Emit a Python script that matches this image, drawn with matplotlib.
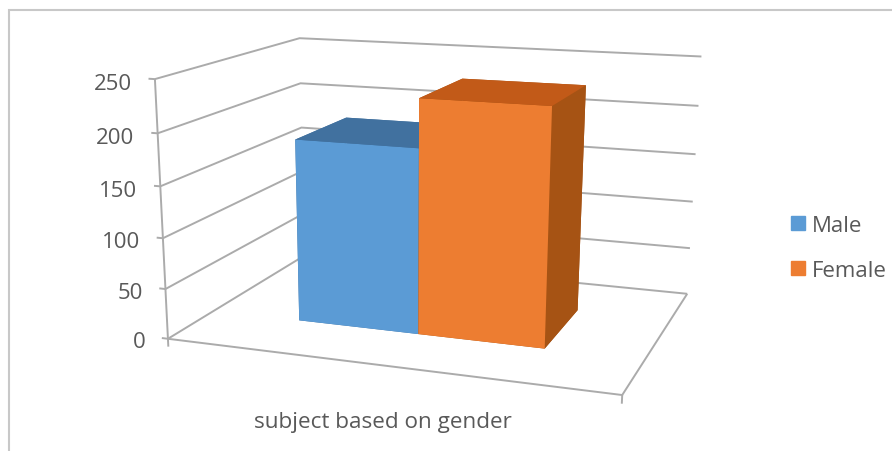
import numpy as np
import matplotlib
matplotlib.use("Agg")
import matplotlib.pyplot as plt
from matplotlib.lines import Line2D
from mpl_toolkits.mplot3d import proj3d
from mpl_toolkits.mplot3d.art3d import Line3DCollection

WIDTH = 892
HEIGHT = 452

category = "subject based on gender"
series_names = ["Male", "Female"]
series_values = [183, 230]
tick_values = [0, 50, 100, 150, 200, 250]

front_colors = ["#5B9BD5", "#ED7D31"]
top_colors = ["#41719F", "#C25A18"]
side_colors = ["#41719F", "#A65314"]
grid_color = "#ABABAB"
text_color = "#595959"

plt.rcParams["font.family"] = ["Open Sans", "DejaVu Sans"]

# walls of the chart box: (x, depth, value) and where they land on the canvas
anchors = [
    (0, 0, 0, 169, 339),
    (1, 0, 0, 622, 397),
    (1, 1, 0, 688, 294),
    (0, 1, 0, 303, 258),
    (0, 0, 250, 154, 80),
    (0, 1, 250, 300, 40),
    (1, 1, 250, 702, 58),
    (0, 1, 200, 301, 83),
    (1, 1, 200, 698, 107),
    (1, 1, 100, 692, 202),
]


# solve the camera matrix from the anchors, y pointing up on the canvas
def camera_matrix(points):
    rows = []
    for x, y, z, u, v in points:
        v = HEIGHT - v
        w = [x, y, z / 250, 1]
        rows.append(w + [0, 0, 0, 0] + [-u * c for c in w])
        rows.append([0, 0, 0, 0] + w + [-v * c for c in w])
    p = np.linalg.svd(np.array(rows, dtype=float))[2][-1].reshape(3, 4)
    p[:, 2] /= 250
    if p[2] @ np.array([0.5, 0.5, 100, 1]) < 0:
        p = -p
    # third row only orders the faces: viewer sits in front, above and to the right
    depth = [-0.5 * p[2, 3], p[2, 3], -p[2, 3] / 250, 0]
    return np.vstack([p[0], p[1], depth, p[2]])


fig = plt.figure(figsize=(WIDTH / 100, HEIGHT / 100), dpi=100)

# 3d axes are forced square, so let one run past the top and bottom of the figure
ax = fig.add_axes([0, (HEIGHT - WIDTH) / 2 / HEIGHT, 1, WIDTH / HEIGHT], projection="3d")
ax.set_axis_off()
ax.computed_zorder = False
M = camera_matrix(anchors)
ax.get_proj = lambda: M
ax.viewLim.intervalx = (0, WIDTH)
ax.viewLim.intervaly = ((HEIGHT - WIDTH) / 2, (HEIGHT + WIDTH) / 2)

# gridlines along the left and back walls
segments = []
for v in tick_values:
    segments.append([(-0.015, 0, v), (0, 0, v), (0, 1, v), (1, 1, v)])

# floor and axes
segments.append([(0, 0, 0), (1, 0, 0), (1, 1, 0)])
segments.append([(0, 0, -8), (0, 0, 250)])
segments.append([(1, 0, -8), (1, 0, 0)])
ax.add_collection3d(Line3DCollection(segments, colors=grid_color, linewidths=1.4, zorder=1), autolim=False)

# bars, one category with two series, gap width and depth of 150%
bar_w = 1 / 3.5
bar_x = [0.75 * bar_w, 0.75 * bar_w + bar_w]
for i in range(len(series_values)):
    faces = [side_colors[i], top_colors[i], front_colors[i], side_colors[i], side_colors[i], side_colors[i]]
    ax.bar3d(bar_x[i], 0.3, 0, bar_w, 0.4, series_values[i], color=faces, shade=False, zorder=3 + i)

for v in tick_values:
    tx, ty, _ = proj3d.proj_transform(-0.05, 0, v, M)
    ax.text2D(tx - 2, ty - 5.5, str(v), ha="right", va="center", fontsize=16, color=text_color,
              transform=ax.transData)

fig.text(383 / WIDTH, 1 - 423 / HEIGHT, category, ha="center", va="center", fontsize=16.2, color=text_color)

handles = []
for i in range(len(series_names)):
    handles.append(Line2D([], [], ls="", marker="s", ms=9.5, color=front_colors[i]))
fig.legend(handles, series_names, loc="center left", bbox_to_anchor=(787 / WIDTH, 1 - 249 / HEIGHT),
           frameon=False, fontsize=16, labelcolor=text_color, labelspacing=1.08,
           handlelength=1, handletextpad=0.1, borderpad=0, borderaxespad=0)

# chart border
fig.add_artist(plt.Rectangle((8.5 / WIDTH, -0.01), 1, 1 - 10.5 / HEIGHT + 0.01, fill=False,
                             ec="#C8C8C8", lw=1.5, transform=fig.transFigure))

fig.savefig("out.png", dpi=100)
